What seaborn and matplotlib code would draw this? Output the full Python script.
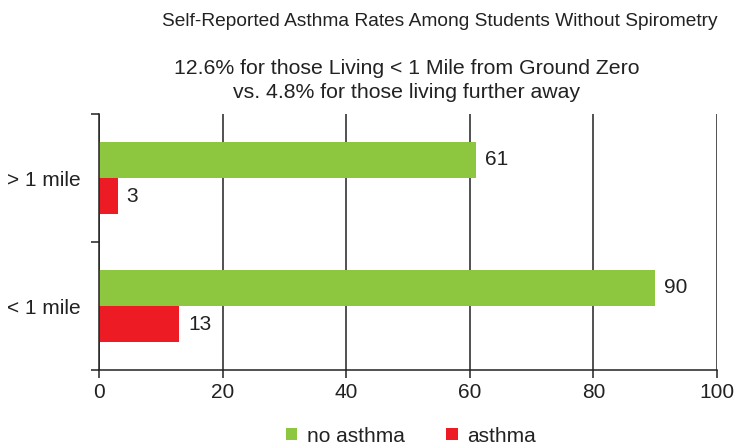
import matplotlib
matplotlib.use("Agg")
import matplotlib.pyplot as plt
from matplotlib.ticker import FixedLocator
from matplotlib.patches import Patch
import seaborn as sns
import pandas as pd

# Data
distances = ["> 1 mile", "< 1 mile"]
groups = ["no asthma", "asthma"]
no_asthma = [61, 90]
asthma = [3, 13]
x_ticks = [0, 20, 40, 60, 80, 100]

colors = {"no asthma": "#8DC63F", "asthma": "#ED1C24"}
ink = "#222222"

df = pd.DataFrame({
    "distance": distances * 2,
    "group": ["no asthma"] * len(distances) + ["asthma"] * len(distances),
    "count": no_asthma + asthma,
})

sns.set_theme(style="white")
plt.rcParams["font.family"] = ["Liberation Sans", "DejaVu Sans"]

fig = plt.figure(figsize=(7.38, 4.47), dpi=100)
ax = fig.add_axes([99 / 738, 1 - 370 / 447, (717 - 99) / 738, (370 - 114) / 447])

sns.barplot(data=df, y="distance", x="count", hue="group", order=distances,
            hue_order=groups, palette=colors, orient="h", width=0.57,
            saturation=1, linewidth=0, ax=ax, legend=False)

for container in ax.containers:
    ax.bar_label(container, padding=6.5, fontsize=15, color=ink)

ax.set_xlim(0, 100)
ax.set_ylim(1.5, -0.5)
ax.set_xticks(x_ticks)
ax.set_xlabel("")
ax.set_ylabel("")
ax.xaxis.grid(True, color=ink, linewidth=1.1)
ax.set_axisbelow(True)

for side in ["top", "right"]:
    ax.spines[side].set_visible(False)
for side in ["left", "bottom"]:
    ax.spines[side].set_color(ink)
    ax.spines[side].set_linewidth(1.1)

ax.tick_params(axis="x", bottom=True, length=6, width=1.1, color=ink,
               labelsize=15, labelcolor=ink, pad=3)
ax.tick_params(axis="y", which="major", left=False, length=0, labelsize=15,
               labelcolor=ink, pad=13)
ax.yaxis.set_minor_locator(FixedLocator([-0.5, 0.5, 1.5]))
ax.tick_params(axis="y", which="minor", left=True, length=6, width=1.1,
               color=ink)

fig.text(440 / 738, 1 - 21 / 447, "Self-Reported Asthma Rates Among Students Without Spirometry",
         ha="center", va="center", fontsize=13.8, color=ink)
fig.text(407 / 738, 1 - 68 / 447, "12.6% for those Living < 1 Mile from Ground Zero",
         ha="center", va="center", fontsize=15.3, color=ink)
fig.text(407 / 738, 1 - 92 / 447, "vs. 4.8% for those living further away",
         ha="center", va="center", fontsize=15.3, color=ink)

handles = [Patch(facecolor=colors[g], edgecolor="none", label=g) for g in groups]
fig.legend(handles=handles, loc="center", bbox_to_anchor=(411 / 738, 1 - 436 / 447),
           ncol=2, frameon=False, fontsize=15, handlelength=0.55, handleheight=0.55,
           handletextpad=0.45, columnspacing=2.0, labelcolor=ink)

fig.savefig("out.png", dpi=100)
